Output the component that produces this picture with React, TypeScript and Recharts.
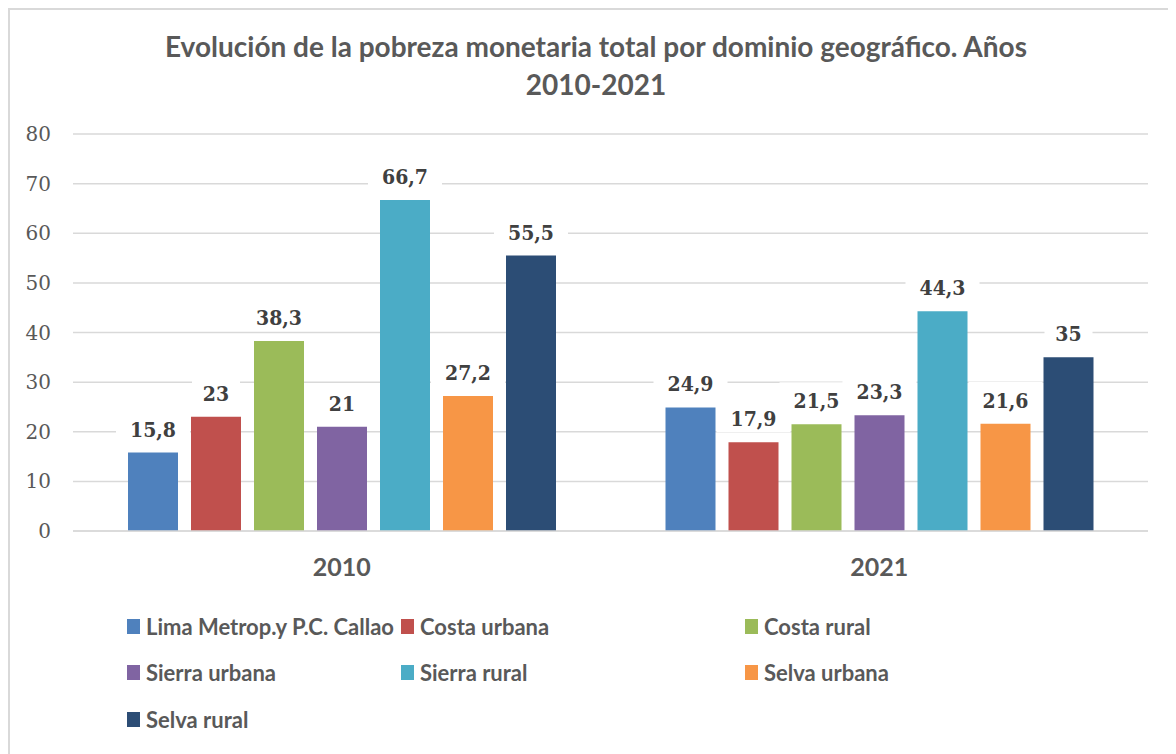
import React from "react";
import { BarChart, Bar, XAxis, YAxis, CartesianGrid, Legend, LabelList } from "recharts";

const years = ["2010", "2021"];
const seriesNames = [
  "Lima Metrop.y P.C. Callao",
  "Costa urbana",
  "Costa rural",
  "Sierra urbana",
  "Sierra rural",
  "Selva urbana",
  "Selva rural",
];
const seriesColors = ["#4f81bd", "#c0504d", "#9bbb59", "#8064a2", "#4bacc6", "#f79646", "#2c4d75"];
const limaValues = [15.8, 24.9];
const costaUrbanaValues = [23, 17.9];
const costaRuralValues = [38.3, 21.5];
const sierraUrbanaValues = [21, 23.3];
const sierraRuralValues = [66.7, 44.3];
const selvaUrbanaValues = [27.2, 21.6];
const selvaRuralValues = [55.5, 35];
const yTicks = [0, 10, 20, 30, 40, 50, 60, 70, 80];

const allValues = [
  limaValues,
  costaUrbanaValues,
  costaRuralValues,
  sierraUrbanaValues,
  sierraRuralValues,
  selvaUrbanaValues,
  selvaRuralValues,
];
const keys = seriesNames.map((_, i) => "s" + i);
const data = years.map((y, yi) => {
  const row: any = { year: y };
  keys.forEach((k, si) => {
    row[k] = allValues[si][yi];
  });
  return row;
});

const fmt = (v: number) => String(v).replace(".", ",");

const ValueLabel = (props: any) => {
  const { x, y, width, value } = props;
  const cx = x + width / 2;
  const txt = fmt(value);
  const w = txt.length * 13 + 22;
  return (
    <g>
      <rect x={cx - w / 2} y={y - 42} width={w} height={32} fill="#ffffff" />
      <text
        x={cx}
        y={y - 16}
        textAnchor="middle"
        fontFamily="'DejaVu Serif Condensed', 'DejaVu Serif', serif"
        fontWeight="bold"
        fontSize={21}
        fill="#404040"
      >
        {txt}
      </text>
    </g>
  );
};

const YTick = (props: any) => {
  const { x, y, payload } = props;
  return (
    <text
      x={x}
      y={y}
      dy={7}
      textAnchor="end"
      fontFamily="'DejaVu Serif', serif"
      fontSize={20}
      fill="#595959"
    >
      {payload.value}
    </text>
  );
};

const XTick = (props: any) => {
  const { x, y, payload } = props;
  return (
    <text
      x={x}
      y={y}
      dy={25}
      textAnchor="middle"
      fontFamily="Lato, sans-serif"
      fontWeight="bold"
      fontSize={25}
      fill="#595959"
    >
      {payload.value}
    </text>
  );
};

const colLeft = [117, 391, 735];
const LegendContent = () => (
  <div style={{ position: "relative", width: 1180, height: 138 }}>
    {seriesNames.map((n, i) => {
      const row = Math.floor(i / 3);
      const col = i % 3;
      return (
        <div
          key={n}
          style={{
            position: "absolute",
            left: colLeft[col],
            top: row * 46.5 - 2,
            height: 46,
            display: "flex",
            alignItems: "center",
            fontFamily: "Lato, sans-serif",
            fontWeight: "bold",
            fontSize: 22,
            color: "#595959",
            whiteSpace: "nowrap",
          }}
        >
          <span
            style={{
              display: "inline-block",
              width: 13,
              height: 15,
              background: seriesColors[i],
              marginRight: 6,
            }}
          />
          {n}
        </div>
      );
    })}
  </div>
);

export default function App() {
  return (
    <div
      style={{
        position: "relative",
        width: 1180,
        height: 760,
        border: "2px solid #d9d9d9",
        background: "#ffffff",
      }}
    >
      <div
        style={{
          position: "absolute",
          left: 0,
          top: 17,
          width: 1172,
          textAlign: "center",
          fontFamily: "Lato, sans-serif",
          fontWeight: "bold",
          fontSize: 28,
          lineHeight: "38px",
          color: "#595959",
        }}
      >
        Evolución de la pobreza monetaria total por dominio geográfico. Años
        <br />
        2010-2021
      </div>
      <BarChart
        width={1180}
        height={746}
        data={data}
        margin={{ top: 124, right: 42, bottom: 13, left: 0 }}
        barCategoryGap={55}
        barGap={13}
      >
        <CartesianGrid vertical={false} stroke="#d9d9d9" strokeWidth={1.5} />
        <XAxis
          dataKey="year"
          axisLine={{ stroke: "#d9d9d9", strokeWidth: 1.5 }}
          tickLine={false}
          tickSize={0}
          tickMargin={20}
          height={74}
          tick={<XTick />}
        />
        <YAxis
          domain={[0, 80]}
          ticks={yTicks}
          width={63}
          axisLine={false}
          tickLine={false}
          tickSize={0}
          tickMargin={22}
          tick={<YTick />}
        />
        <Legend verticalAlign="bottom" align="left" content={<LegendContent />} wrapperStyle={{ left: 0, width: 1180 }} />
        {keys.map((k, i) => (
          <Bar key={k} dataKey={k} name={seriesNames[i]} fill={seriesColors[i]} isAnimationActive={false}>
            <LabelList dataKey={k} content={<ValueLabel />} />
          </Bar>
        ))}
      </BarChart>
    </div>
  );
}
